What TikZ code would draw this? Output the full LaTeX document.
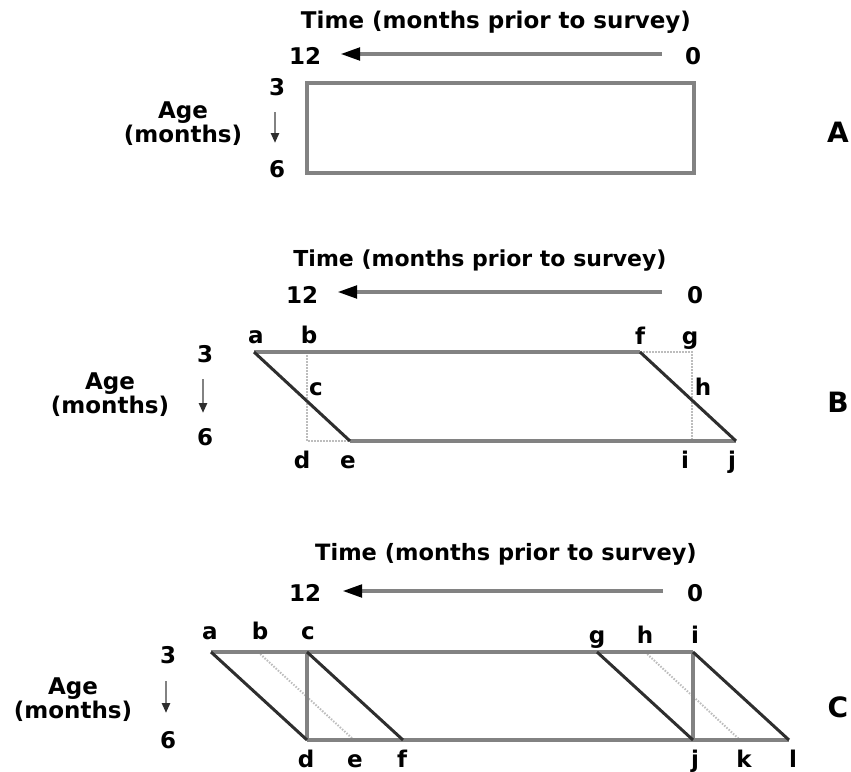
\documentclass[tikz,border=0pt]{standalone}
\usepackage{fontspec}
\setmainfont{DejaVu Sans}
\usetikzlibrary{arrows.meta}
\definecolor{framegray}{HTML}{828282}
\definecolor{diagdark}{HTML}{2E2E2E}
\definecolor{dotgray}{HTML}{BDBDBD}
\begin{document}
\begin{tikzpicture}[x=1pt,y=-1pt,
  title/.style={inner sep=0pt, anchor=base, font=\bfseries\fontsize{23}{26}\selectfont},
  lbl/.style={inner sep=0pt, anchor=base, font=\bfseries\fontsize{23}{26}\selectfont},
  axlbl/.style={inner sep=0pt, anchor=base, align=center, font=\bfseries\fontsize{23}{21}\selectfont},
  panel/.style={inner sep=0pt, anchor=base, font=\bfseries\fontsize{28}{30}\selectfont},
  frame/.style={draw=framegray, line width=3.6pt},
  topframe/.style={draw=framegray, line width=4.6pt},
  diag/.style={draw=diagdark, line width=3pt},
  dots/.style={draw=dotgray, line width=2pt, dash pattern=on 1.5pt off 1.5pt},
  timearrow/.style={draw=framegray, line width=4.5pt, -{Triangle[length=20pt,width=12pt,color=black]}},
  agearrow/.style={draw=framegray, line width=2.5pt, -{Triangle[length=10pt,width=8pt,color=diagdark]}}
]
\useasboundingbox (0,0) rectangle (851,771);

% ---------- Panel A ----------
\node[title] (tA) at (496,28) {Time (months prior to survey)};
\node[lbl] (tw12A) at (305,64) {12};
\node[lbl] (t0A) at (693,64) {0};
\coordinate (arAs) at (662,54);
\coordinate (arAe) at (340,54);
\draw[timearrow] (arAs) -- (arAe);
\node[lbl] (a3A) at (277,95) {3};
\node[lbl] (a6A) at (277,177) {6};
\coordinate (ageAs) at (275,112);
\coordinate (ageAe) at (275,143);
\draw[agearrow] (ageAs) -- (ageAe);
\node[axlbl] (ageA) at (183,142) {Age\\(months)};
\coordinate (rA1) at (307,83);
\coordinate (rA2) at (694,173);
\draw[frame] (rA1) rectangle (rA2);
\node[panel] (pA) at (838,142) {A};

% ---------- Panel B ----------
\node[title, font=\bfseries\fontsize{22}{26}\selectfont] (tB) at (480,266) {Time (months prior to survey)};
\node[lbl] (tw12B) at (302,303) {12};
\node[lbl] (t0B) at (695,303) {0};
\coordinate (arBs) at (662,292);
\coordinate (arBe) at (337,292);
\draw[timearrow] (arBs) -- (arBe);
\node[lbl] (a3B) at (205,362) {3};
\node[lbl] (a6B) at (205,445) {6};
\coordinate (ageBs) at (203,379);
\coordinate (ageBe) at (203,413);
\draw[agearrow] (ageBs) -- (ageBe);
\node[axlbl] (ageB) at (110,413) {Age\\(months)};

\coordinate (Ba) at (254,352);
\coordinate (Bb) at (307,352);
\coordinate (Bf) at (640,352);
\coordinate (Bg) at (692,352);
\coordinate (Bd) at (307,441);
\coordinate (Be) at (350,441);
\coordinate (Bi) at (692,441);
\coordinate (Bj) at (736,441);
\draw[dots] (Bb) -- (Bd) -- (Be);
\draw[dots] (Bf) -- (Bg) -- (Bi);
\draw[topframe] (Ba) -- (Bf);
\draw[frame] (Be) -- (Bj);
\draw[diag] (Ba) -- (Be);
\draw[diag] (Bf) -- (Bj);
\node[lbl] (lBa) at (256,343) {a};
\node[lbl] (lBb) at (309,343) {b};
\node[lbl] (lBc) at (316,395) {c};
\node[lbl] (lBf) at (640,344) {f};
\node[lbl] (lBg) at (690,344) {g};
\node[lbl] (lBh) at (703,395) {h};
\node[lbl] (lBd) at (302,468) {d};
\node[lbl] (lBe) at (348,468) {e};
\node[lbl] (lBi) at (685,468) {i};
\node[lbl] (lBj) at (732,468) {j};
\node[panel] (pB) at (838,412) {B};

% ---------- Panel C ----------
\node[title, font=\bfseries\fontsize{22.5}{26}\selectfont] (tC) at (506,560) {Time (months prior to survey)};
\node[lbl] (tw12C) at (305,601) {12};
\node[lbl] (t0C) at (695,601) {0};
\coordinate (arCs) at (663,591);
\coordinate (arCe) at (342,591);
\draw[timearrow] (arCs) -- (arCe);
\node[lbl] (a3C) at (168,663) {3};
\node[lbl] (a6C) at (168,748) {6};
\coordinate (ageCs) at (166,681);
\coordinate (ageCe) at (166,713);
\draw[agearrow] (ageCs) -- (ageCe);
\node[axlbl] (ageC) at (73,718) {Age\\(months)};

\coordinate (Ca) at (211,652);
\coordinate (Cb) at (258,652);
\coordinate (Cc) at (307,652);
\coordinate (Cg) at (597,652);
\coordinate (Ch) at (645,652);
\coordinate (Ci) at (693,652);
\coordinate (Cd) at (307,740);
\coordinate (Ce) at (354,740);
\coordinate (Cf) at (403,740);
\coordinate (Cj) at (693,740);
\coordinate (Ck) at (740,740);
\coordinate (Cl) at (789,740);
\draw[dots] (Cb) -- (Ce);
\draw[dots] (Ch) -- (Ck);
\draw[frame] (Ca) -- (Ci);
\draw[frame] (Cd) -- (Cl);
\draw[frame] (Cc) -- (Cd);
\draw[frame] (Ci) -- (Cj);
\draw[diag] (Ca) -- (Cd);
\draw[diag] (Cc) -- (Cf);
\draw[diag] (Cg) -- (Cj);
\draw[diag] (Ci) -- (Cl);
\node[lbl] (lCa) at (210,639) {a};
\node[lbl] (lCb) at (260,639) {b};
\node[lbl] (lCc) at (308,639) {c};
\node[lbl] (lCg) at (597,643) {g};
\node[lbl] (lCh) at (645,643) {h};
\node[lbl] (lCi) at (695,643) {i};
\node[lbl] (lCd) at (306,767) {d};
\node[lbl] (lCe) at (355,767) {e};
\node[lbl] (lCf) at (402,767) {f};
\node[lbl] (lCj) at (695,767) {j};
\node[lbl] (lCk) at (744,767) {k};
\node[lbl] (lCl) at (793,767) {l};
\node[panel] (pC) at (838,717) {C};
\end{tikzpicture}
\end{document}
